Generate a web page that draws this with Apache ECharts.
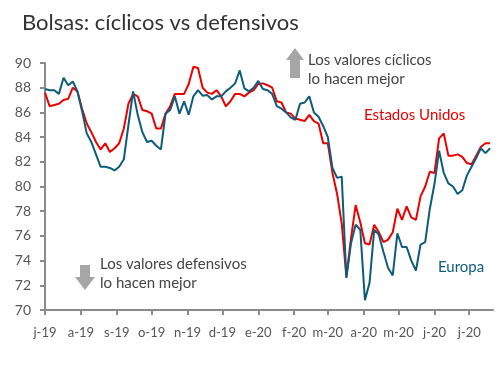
<!DOCTYPE html>
<html>
<head>
<meta charset="utf-8">
<script src="https://cdn.jsdelivr.net/npm/echarts@6/dist/echarts.min.js"></script>
<style>
  html, body { margin: 0; padding: 0; background: #fff; }
  #chart { width: 502px; height: 377px; }
</style>
</head>
<body>
<div id="chart"></div>
<script>
// serie leída cada 4 días desde el 1 jul 2019
const startDay = [2019, 6, 1]
const stepDays = 4

const estadosUnidos = [
  87.6, 86.5, 86.6, 86.7, 87.0, 87.1, 88.0, 87.7, 86.3, 85.1,
  84.4, 83.6, 83.0, 83.5, 82.8, 83.1, 83.5, 84.7, 86.7, 87.5,
  87.3, 86.2, 86.1, 85.9, 84.7, 84.7, 85.9, 86.5, 87.5, 87.5,
  87.5, 88.3, 89.7, 89.6, 88.0, 87.6, 87.5, 87.8, 87.3, 86.5,
  86.9, 87.5, 87.5, 87.3, 87.6, 87.8, 88.3, 88.35, 88.2, 88.0,
  86.9, 86.8, 86.0, 85.9, 85.5, 85.4, 85.3, 85.8, 85.3, 85.1,
  83.5, 83.5, 81.1, 79.4, 77.0, 72.7, 75.8, 78.5, 77.1, 75.4,
  75.3, 76.9, 76.3, 75.5, 75.7, 76.3, 78.2, 77.3, 78.4, 77.5,
  77.3, 79.2, 80.0, 81.2, 81.1, 83.9, 84.3, 82.5, 82.5, 82.6,
  82.4, 81.9, 81.8, 82.5, 83.2, 83.5, 83.5
]

const europa = [
  87.9, 87.8, 87.8, 87.5, 88.8, 88.2, 88.5, 87.7, 86.1, 84.3,
  83.6, 82.6, 81.6, 81.6, 81.5, 81.3, 81.6, 82.2, 85.0, 87.7,
  85.8, 84.4, 83.6, 83.7, 83.3, 83.0, 85.9, 86.2, 87.3, 85.9,
  86.9, 85.8, 87.3, 87.8, 87.35, 87.4, 87.05, 87.3, 87.3, 87.7,
  88.0, 88.35, 89.4, 87.95, 87.7, 88.0, 88.55, 87.9, 87.8, 87.5,
  86.5, 86.3, 86.0, 85.6, 85.4, 86.7, 86.8, 87.3, 86.0, 85.65,
  84.9, 84.0, 81.5, 80.7, 80.8, 72.6, 75.4, 76.9, 76.5, 70.8,
  72.2, 76.5, 76.1, 74.7, 73.4, 72.8, 76.2, 75.1, 75.1, 74.0,
  73.2, 75.3, 75.5, 78.2, 80.2, 82.9, 81.1, 80.25, 80.0, 79.4,
  79.7, 80.9, 81.6, 82.3, 83.1, 82.7, 83.1
]

// etiquetas de mes (enero..diciembre)
const monthLetters = ['e', 'f', 'm', 'a', 'm', 'j', 'j', 'a', 's', 'o', 'n', 'd']

const font = 'Lato'
const grey = '#8a8a8a'
const red = '#ec0000'
const teal = '#0e5c7a'

const toPoints = (vals) =>
  vals.map((v, i) => [new Date(startDay[0], startDay[1], startDay[2] + i * stepDays), v])

const chart = echarts.init(document.getElementById('chart'))

const option = {
  animation: false,
  title: {
    text: 'Bolsas: cíclicos vs defensivos',
    left: 17,
    top: 7,
    textStyle: { fontFamily: font, fontSize: 22, fontWeight: 'normal', color: '#333' },
  },
  grid: { left: 45, right: 9, top: 63, bottom: 67 },
  xAxis: {
    type: 'time',
    min: new Date(2019, 6, 1),
    max: new Date(2020, 6, 21, 12),
    splitNumber: 13,
    minInterval: 28 * 864e5,
    maxInterval: 31 * 864e5,
    axisLine: { lineStyle: { color: grey, width: 2 } },
    axisTick: { show: true, length: 5, lineStyle: { color: grey, width: 2 } },
    splitLine: { show: false },
    axisLabel: {
      margin: 16,
      color: '#555',
      fontSize: 13,
      fontFamily: font,
      hideOverlap: false,
      formatter: function (val) {
        const d = new Date(val)
        return monthLetters[d.getMonth()] + '-' + String(d.getFullYear()).slice(2)
      },
    },
  },
  yAxis: {
    type: 'value',
    min: 70,
    max: 90,
    interval: 2,
    axisLine: { show: true, lineStyle: { color: grey, width: 2 } },
    axisTick: { show: true, length: 5, lineStyle: { color: grey, width: 2 } },
    splitLine: { show: false },
    axisLabel: { margin: 14, color: '#555', fontSize: 14, fontFamily: font },
  },
  series: [
    {
      name: 'Estados Unidos',
      type: 'line',
      data: toPoints(estadosUnidos),
      showSymbol: false,
      lineStyle: { color: red, width: 2 },
      itemStyle: { color: red },
    },
    {
      name: 'Europa',
      type: 'line',
      data: toPoints(europa),
      showSymbol: false,
      lineStyle: { color: teal, width: 2 },
      itemStyle: { color: teal },
    },
  ],
  graphic: [
    {
      type: 'polygon',
      shape: { points: [[295, 48], [304, 60], [300, 60], [300, 78], [290, 78], [290, 60], [286, 60]] },
      style: { fill: '#a6a6a6' },
    },
    {
      type: 'polygon',
      shape: { points: [[80, 265], [90, 265], [90, 277], [95, 277], [85, 290], [75, 277], [80, 277]] },
      style: { fill: '#a6a6a6' },
    },
    { type: 'text', style: { x: 308, y: 60, text: 'Los valores cíclicos', font: '15px Lato', fill: '#444', verticalAlign: 'middle' } },
    { type: 'text', style: { x: 308, y: 79, text: 'lo hacen mejor', font: '15px Lato', fill: '#444', verticalAlign: 'middle' } },
    { type: 'text', style: { x: 100, y: 264, text: 'Los valores defensivos', font: '15px Lato', fill: '#444', verticalAlign: 'middle' } },
    { type: 'text', style: { x: 100, y: 283, text: 'lo hacen mejor', font: '15px Lato', fill: '#444', verticalAlign: 'middle' } },
    { type: 'text', style: { x: 364, y: 115, text: 'Estados Unidos', font: '15px Lato', fill: red, verticalAlign: 'middle' } },
    { type: 'text', style: { x: 438, y: 267, text: 'Europa', font: '15px Lato', fill: teal, verticalAlign: 'middle' } },
  ],
}

chart.setOption(option)
</script>
</body>
</html>
